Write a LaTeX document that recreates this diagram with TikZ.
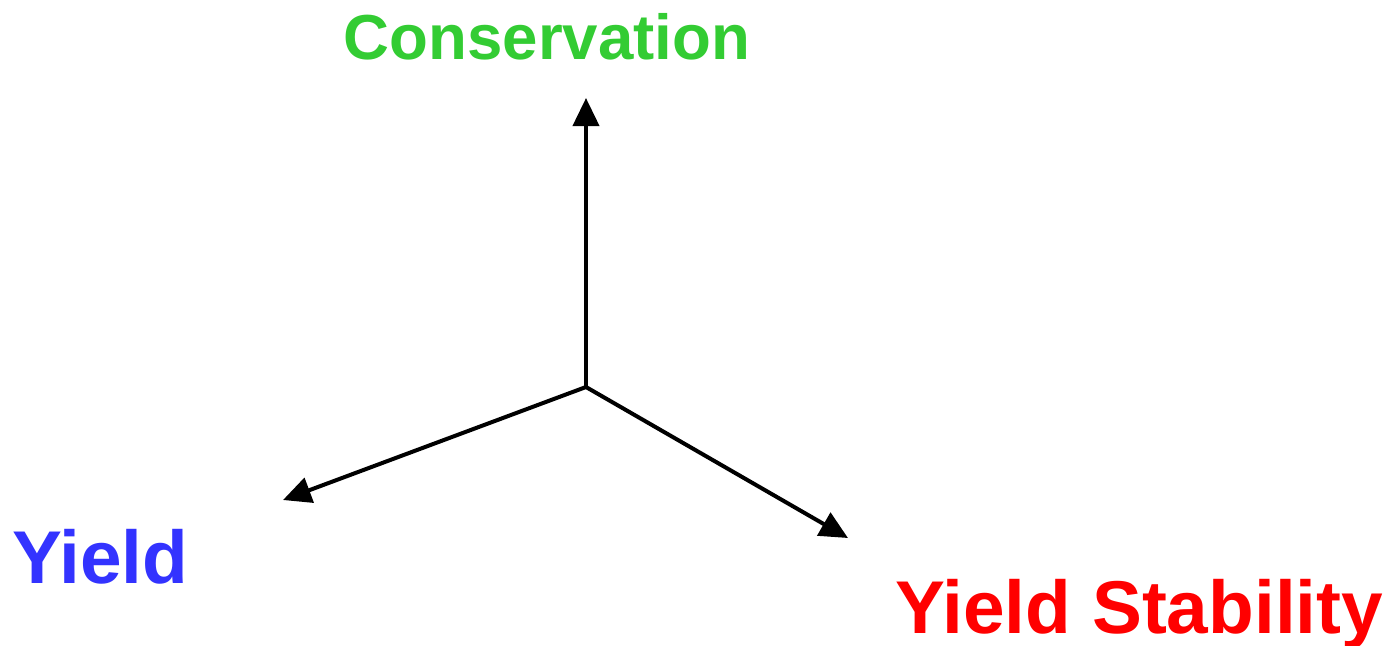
\documentclass[tikz,border=0pt]{standalone}
\usepackage{fontspec}
\setmainfont{Liberation Sans}
\usetikzlibrary{arrows.meta}
\definecolor{cgreen}{HTML}{33CC33}
\definecolor{cblue}{HTML}{3333FF}
\definecolor{cred}{HTML}{FF0000}
\begin{document}
\begin{tikzpicture}[x=0.5pt,y=-0.5pt,
  axis/.style={line width=2pt,-{Triangle[length=14pt,width=13pt]}},
  lbl/.style={inner sep=0pt,font=\fontsize{37.4}{44}\selectfont\bfseries},
  lbls/.style={inner sep=0pt,font=\fontsize{31.8}{38}\selectfont\bfseries}]
\useasboundingbox (0,0) rectangle (1389,645);
\coordinate (o) at (586,387);
\coordinate (up) at (586,98);
\coordinate (lf) at (283,500);
\coordinate (rt) at (848,538);
\draw[axis] (o) -- (up);
\draw[axis] (o) -- (lf);
\draw[axis] (o) -- (rt);
\node[lbls,text=cgreen,anchor=base] (cons) at (547,59) {Conservation};
\node[lbl,text=cblue,anchor=base west] (yield) at (12,583) {Yield};
\node[lbl,text=cred,anchor=base west] (ys) at (895,633) {Yield Stability};
\end{tikzpicture}
\end{document}
